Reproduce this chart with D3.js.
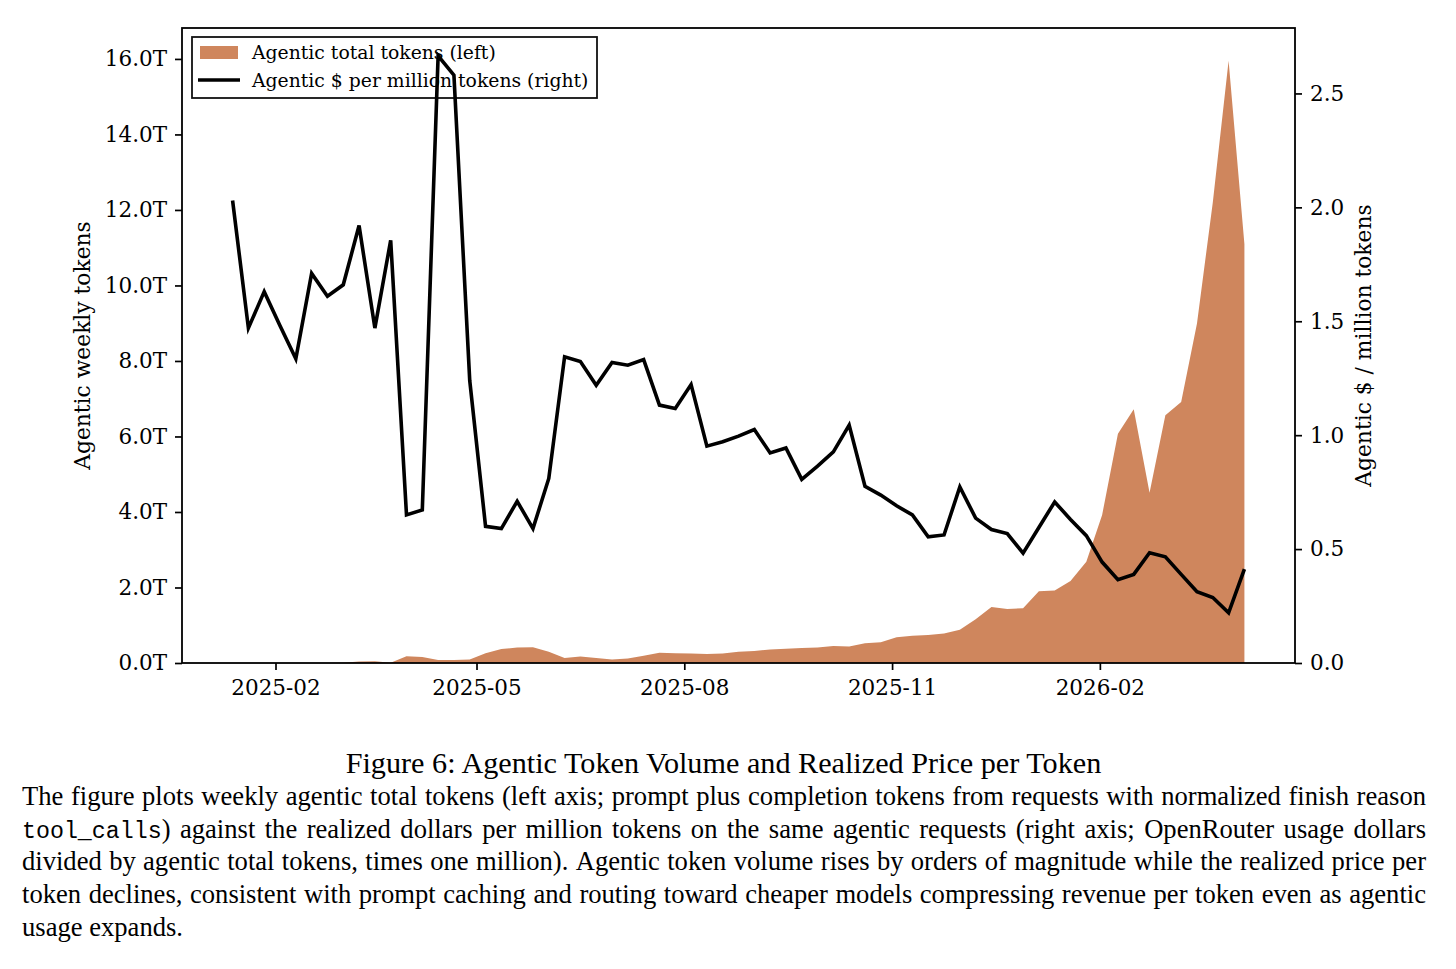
<!DOCTYPE html>
<html>
<head>
<meta charset="utf-8">
<script src="https://cdn.jsdelivr.net/npm/d3@7/dist/d3.min.js"></script>
<style>
  html, body { margin: 0; padding: 0; background: #ffffff; }
  svg { display: block; }
</style>
</head>
<body>
<svg id="chart" width="1456" height="969"></svg>
<script>
// ---------------- DATA ----------------
const weeks = [
  "2025-01-13","2025-01-20","2025-01-27","2025-02-03","2025-02-10","2025-02-17","2025-02-24",
  "2025-03-03","2025-03-10","2025-03-17","2025-03-24","2025-03-31","2025-04-07","2025-04-14",
  "2025-04-21","2025-04-28","2025-05-05","2025-05-12","2025-05-19","2025-05-26","2025-06-02",
  "2025-06-09","2025-06-16","2025-06-23","2025-06-30","2025-07-07","2025-07-14","2025-07-21",
  "2025-07-28","2025-08-04","2025-08-11","2025-08-18","2025-08-25","2025-09-01","2025-09-08",
  "2025-09-15","2025-09-22","2025-09-29","2025-10-06","2025-10-13","2025-10-20","2025-10-27",
  "2025-11-03","2025-11-10","2025-11-17","2025-11-24","2025-12-01","2025-12-08","2025-12-15",
  "2025-12-22","2025-12-29","2026-01-05","2026-01-12","2026-01-19","2026-01-26","2026-02-02",
  "2026-02-09","2026-02-16","2026-02-23","2026-03-02","2026-03-09","2026-03-16","2026-03-23",
  "2026-03-30","2026-04-06"
];

// Agentic total tokens per week (trillions) - left axis
const tokensT = [
  0, 0, 0, 0, 0, 0, 0, 0.005, 0.04, 0.045,
  0.005, 0.18, 0.16, 0.08, 0.08, 0.09, 0.26, 0.37, 0.41, 0.42,
  0.30, 0.13, 0.17, 0.13, 0.09, 0.12, 0.19, 0.27, 0.26, 0.25,
  0.24, 0.25, 0.30, 0.32, 0.36, 0.38, 0.40, 0.41, 0.45, 0.44,
  0.52, 0.55, 0.68, 0.72, 0.74, 0.78, 0.88, 1.16, 1.48, 1.43,
  1.45, 1.90, 1.92, 2.17, 2.68, 3.92, 6.07, 6.72, 4.51, 6.56,
  6.91, 8.99, 12.2, 15.95, 11.1
];

// Agentic $ per million tokens - right axis
const pricePerM = [
  2.03, 1.47, 1.63, 1.48, 1.335, 1.71, 1.61, 1.66, 1.92, 1.47,
  1.855, 0.65, 0.672, 2.665, 2.58, 1.24, 0.60, 0.59, 0.71, 0.59,
  0.81, 1.344, 1.323, 1.219, 1.319, 1.307, 1.332, 1.132, 1.117, 1.222,
  0.952, 0.971, 0.996, 1.025, 0.922, 0.944, 0.806, 0.864, 0.927, 1.044,
  0.776, 0.737, 0.690, 0.650, 0.554, 0.562, 0.773, 0.636, 0.586, 0.568,
  0.482, 0.595, 0.707, 0.630, 0.559, 0.443, 0.366, 0.389, 0.484, 0.466,
  0.389, 0.3125, 0.2875, 0.220, 0.4125
];

const leftTicks = [0, 2, 4, 6, 8, 10, 12, 14, 16];
const rightTicks = [0, 0.5, 1.0, 1.5, 2.0, 2.5];
const xTickDates = ["2025-02-01", "2025-05-01", "2025-08-01", "2025-11-01", "2026-02-01"];
const xTickLabels = ["2025-02", "2025-05", "2025-08", "2025-11", "2026-02"];

const legendLabels = ["Agentic total tokens (left)", "Agentic $ per million tokens (right)"];
const leftAxisLabel = "Agentic weekly tokens";
const rightAxisLabel = "Agentic $ / million tokens";

const captionTitle = "Figure 6: Agentic Token Volume and Realized Price per Token";
const captionLines = [
  "The figure plots weekly agentic total tokens (left axis; prompt plus completion tokens from requests with normalized finish reason",
  "`tool_calls`) against the realized dollars per million tokens on the same agentic requests (right axis; OpenRouter usage dollars",
  "divided by agentic total tokens, times one million). Agentic token volume rises by orders of magnitude while the realized price per",
  "token declines, consistent with prompt caching and routing toward cheaper models compressing revenue per token even as agentic",
  "usage expands."
];

// ---------------- STYLE / LAYOUT ----------------
const AREA_COLOR = "#cf865d";
const SERIF_PLOT = "'DejaVu Serif', serif";
const SERIF_TEXT = "'Liberation Serif', 'Times New Roman', serif";
const MONO_TEXT = "'Liberation Mono', 'DejaVu Sans Mono', monospace";
const TICK_FS = 21.5;
const LABEL_FS = 21.8;
const LEGEND_FS = 18.8;
const LINE_W = 3.6;

const plot = { left: 182, right: 1295, top: 28, bottom: 663 };

const parse = d3.utcParse("%Y-%m-%d");
const data = weeks.map((w, i) => ({ date: parse(w), tokens: tokensT[i], price: pricePerM[i] }));

const svg = d3.select("#chart");
svg.append("rect").attr("width", 1456).attr("height", 969).attr("fill", "#ffffff");

// x scale with matplotlib-like 5% margins
const ext = d3.extent(data, d => d.date);
const span = ext[1] - ext[0];
const x = d3.scaleUtc()
  .domain([new Date(+ext[0] - 0.05 * span), new Date(+ext[1] + 0.05 * span)])
  .range([plot.left, plot.right]);

const yL = d3.scaleLinear().domain([0, d3.max(tokensT) * 1.0545]).range([plot.bottom, plot.top]);
const yR = d3.scaleLinear().domain([0, d3.max(pricePerM) + 0.05 * (d3.max(pricePerM) - d3.min(pricePerM))]).range([plot.bottom, plot.top]);

// Area (left axis)
const area = d3.area()
  .x(d => x(d.date))
  .y0(yL(0))
  .y1(d => yL(d.tokens));
svg.append("path").datum(data)
  .attr("d", area)
  .attr("fill", AREA_COLOR)
  .attr("stroke", "none");

// Legend (drawn beneath the line)
const lg = svg.append("g").attr("transform", `translate(${plot.left + 10},${plot.top + 9})`);
lg.append("rect").attr("x", 0).attr("y", 0).attr("width", 405).attr("height", 61)
  .attr("fill", "#ffffff").attr("stroke", "#111").attr("stroke-width", 1.8);
lg.append("rect").attr("x", 8).attr("y", 9).attr("width", 38).attr("height", 13)
  .attr("fill", AREA_COLOR);
lg.append("line").attr("x1", 6).attr("x2", 48).attr("y1", 43).attr("y2", 43)
  .attr("stroke", "#000").attr("stroke-width", LINE_W);
lg.selectAll("text.lab").data(legendLabels).join("text")
  .attr("class", "lab")
  .attr("x", 60)
  .attr("y", (d, i) => i === 0 ? 15.5 : 43)
  .attr("dy", "0.35em")
  .style("font-family", SERIF_PLOT)
  .style("font-size", LEGEND_FS + "px")
  .attr("fill", "#000")
  .text(d => d);

// Line (right axis)
const line = d3.line()
  .x(d => x(d.date))
  .y(d => yR(d.price));
svg.append("path").datum(data)
  .attr("d", line)
  .attr("fill", "none")
  .attr("stroke", "#000")
  .attr("stroke-width", LINE_W)
  .attr("stroke-linejoin", "miter")
  .attr("stroke-miterlimit", 4);

// Axes
function styleAxis(g) {
  g.select(".domain").remove();
  g.selectAll(".tick line").attr("stroke", "#000").attr("stroke-width", 1.7);
  g.selectAll(".tick text")
    .style("font-family", SERIF_PLOT)
    .style("font-size", TICK_FS + "px")
    .attr("fill", "#000");
}

svg.append("g")
  .attr("transform", `translate(0,${plot.bottom})`)
  .call(d3.axisBottom(x)
    .tickValues(xTickDates.map(parse))
    .tickFormat((d, i) => xTickLabels[i])
    .tickSize(7).tickPadding(10))
  .call(styleAxis);

svg.append("g")
  .attr("transform", `translate(${plot.left},0)`)
  .call(d3.axisLeft(yL)
    .tickValues(leftTicks)
    .tickFormat(d => d3.format(".1f")(d) + "T")
    .tickSize(7).tickPadding(8))
  .call(styleAxis);

svg.append("g")
  .attr("transform", `translate(${plot.right},0)`)
  .call(d3.axisRight(yR)
    .tickValues(rightTicks)
    .tickFormat(d3.format(".1f"))
    .tickSize(7).tickPadding(8))
  .call(styleAxis);

// Spines
svg.append("rect")
  .attr("x", plot.left).attr("y", plot.top)
  .attr("width", plot.right - plot.left).attr("height", plot.bottom - plot.top)
  .attr("fill", "none").attr("stroke", "#000").attr("stroke-width", 1.8);

// Axis labels
const midY = (plot.top + plot.bottom) / 2;
svg.append("text")
  .attr("transform", `translate(90,${midY}) rotate(-90)`)
  .attr("text-anchor", "middle")
  .style("font-family", SERIF_PLOT).style("font-size", LABEL_FS + "px")
  .text(leftAxisLabel);
svg.append("text")
  .attr("transform", `translate(1371,${midY}) rotate(-90)`)
  .attr("text-anchor", "middle")
  .style("font-family", SERIF_PLOT).style("font-size", LABEL_FS + "px")
  .text(rightAxisLabel);

// ---------------- CAPTION ----------------
const BODY_FS = 26.6;
const TITLE_FS = 30.2;
const capLeft = 22, capRight = 1426;
svg.append("text")
  .attr("x", 723.5)
  .attr("y", 773)
  .attr("text-anchor", "middle")
  .style("font-family", SERIF_TEXT).style("font-size", TITLE_FS + "px")
  .attr("fill", "#000")
  .text(captionTitle);

function drawCaptionLine(str, y, justify) {
  const words = str.split(" ");
  const g = svg.append("g");
  const nodes = words.map(w => {
    const t = g.append("text").attr("y", y)
      .style("font-family", SERIF_TEXT).style("font-size", BODY_FS + "px").attr("fill", "#000");
    w.split("`").forEach((seg, k) => {
      if (!seg) return;
      const ts = t.append("tspan").text(seg);
      if (k % 2 === 1) ts.style("font-family", MONO_TEXT).style("font-size", (BODY_FS * 0.875) + "px");
    });
    return t;
  });
  const widths = nodes.map(t => t.node().getComputedTextLength());
  const total = d3.sum(widths);
  const gap = justify ? (capRight - capLeft - total) / (words.length - 1) : BODY_FS * 0.25;
  let xx = capLeft;
  nodes.forEach((t, i) => { t.attr("x", xx); xx += widths[i] + gap; });
}
captionLines.forEach((s, i) => drawCaptionLine(s, 805 + i * 32.7, i < captionLines.length - 1));
</script>
</body>
</html>
